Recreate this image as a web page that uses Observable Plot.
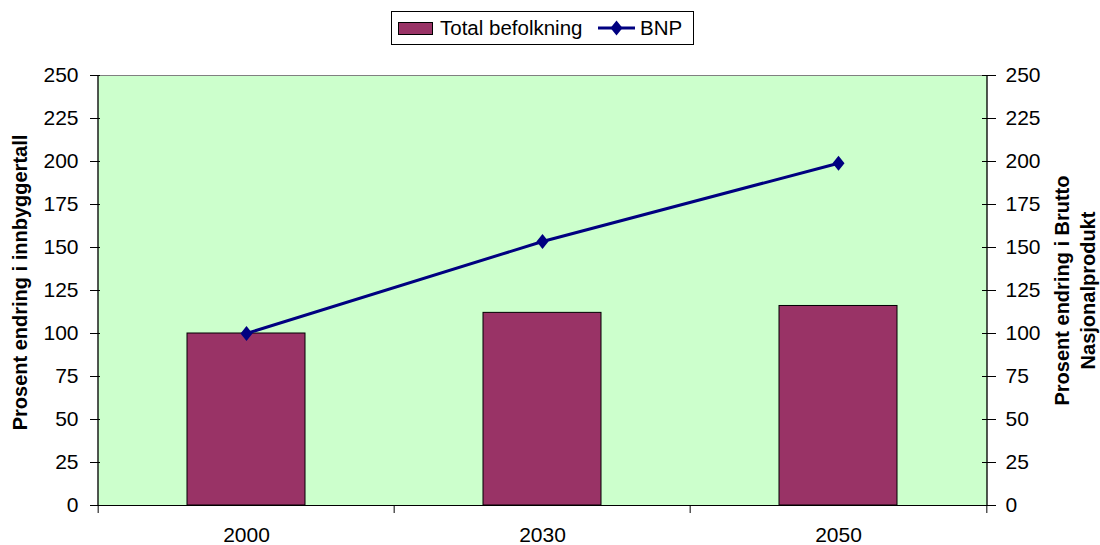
<!DOCTYPE html>
<html>
<head>
<meta charset="utf-8">
<script src="https://cdn.jsdelivr.net/npm/d3@7"></script>
<script src="https://cdn.jsdelivr.net/npm/@observablehq/plot@0.6"></script>
<style>
  html, body { margin: 0; padding: 0; background: #ffffff; }
  body { font-family: "Liberation Sans", Arial, sans-serif; }
  #wrap { width: 1100px; height: 545px; position: relative; }
  #legend { height: 60px; position: relative; }
  #legbox { position: absolute; left: 391px; top: 11px; width: 303px; height: 34px; box-sizing: border-box; border: 1px solid #000; background: #fff; }
  .sw { position: absolute; left: 6px; top: 10px; width: 35px; height: 13px; box-sizing: border-box; background: #993366; border: 1px solid #000; }
  .lt { position: absolute; top: 3px; font-size: 20.5px; line-height: 26px; color: #000; white-space: nowrap; }
  #linesw { position: absolute; left: 206px; top: 7px; }
</style>
</head>
<body>
<div id="wrap">
  <div id="legend"></div>
  <div id="chart"></div>
</div>
<script>
// ---- data ----
const years = ["2000", "2030", "2050"];
const befolkning = [100, 112, 116];      // Total befolkning (bars)
const bnp = [100, 153.5, 199];           // BNP (line)
const yTicks = [0, 25, 50, 75, 100, 125, 150, 175, 200, 225, 250];
const seriesNames = ["Total befolkning", "BNP"];
const leftTitle = "Prosent endring i innbyggertall";
const rightTitle = "Prosent endring i Brutto\nNasjonalprodukt";

// ---- legend (HTML above the SVG) ----
const legend = document.getElementById("legend");
legend.innerHTML = `
  <div id="legbox">
    <div class="sw"></div>
    <div class="lt" style="left:48px">${seriesNames[0]}</div>
    <svg id="linesw" width="38" height="18" viewBox="0 0 38 18">
      <line x1="0" y1="9" x2="37" y2="9" stroke="#000080" stroke-width="3"/>
      <path d="M18.5,1.5 L24.5,9 L18.5,16.5 L12.5,9 Z" fill="#000080"/>
    </svg>
    <div class="lt" style="left:248px">${seriesNames[1]}</div>
  </div>`;

// ---- chart ----
const rows = years.map((y, i) => ({year: y, pop: befolkning[i], gdp: bnp[i]}));

const W = 1100, H = 485, mL = 97, mR = 113, mT = 15, mB = 40;
const step = (W - mL - mR) / years.length;

const tallDiamond = {
  draw(ctx, size) {
    const r = Math.sqrt(size / Math.PI);
    ctx.moveTo(0, -r * 1.25);
    ctx.lineTo(r, 0);
    ctx.lineTo(0, r * 1.25);
    ctx.lineTo(-r, 0);
    ctx.closePath();
  }
};

const chart = Plot.plot({
  width: W,
  height: H,
  marginLeft: mL,
  marginRight: mR,
  marginTop: mT,
  marginBottom: mB,
  style: {fontFamily: "'Liberation Sans', Arial, sans-serif", fontSize: "21px", color: "#000", background: "transparent", overflow: "visible"},
  x: {type: "band", domain: years, paddingInner: 0.6, paddingOuter: 0.3, label: null},
  y: {domain: [0, 250], label: null},
  marks: [
    Plot.frame({fill: "#CCFFCC", stroke: "#808080"}),
    Plot.barY(rows, {x: "year", y: "pop", fill: "#993366", stroke: "#000", strokeWidth: 1}),
    Plot.ruleY([0], {stroke: "#000"}),
    Plot.ruleX([years[0]], {dx: -step / 2, stroke: "#000"}),
    Plot.ruleX([years[years.length - 1]], {dx: step / 2, stroke: "#000"}),
    Plot.ruleX(years, {x: d => d, dx: -step / 2, y1: 0, y2: 0, insetBottom: -8, stroke: "#000"}),
    Plot.ruleX([years[years.length - 1]], {dx: step / 2, y1: 0, y2: 0, insetBottom: -8, stroke: "#000"}),
    Plot.lineY(rows, {x: "year", y: "gdp", stroke: "#000080", strokeWidth: 3}),
    Plot.dot(rows, {x: "year", y: "gdp", symbol: tallDiamond, r: 6, fill: "#000080", stroke: "none"}),
    Plot.axisY({anchor: "left", ticks: yTicks, tickSize: 10, dx: 3, tickPadding: 12, label: null, fontSize: 21}),
    Plot.axisY({anchor: "right", ticks: yTicks, tickSize: 14, dx: -6, tickPadding: 10, label: null, fontSize: 21}),
    Plot.axisX({tickSize: 0, tickPadding: 22, label: null, fontSize: 21}),
    Plot.text([leftTitle], {frameAnchor: "left", textAnchor: "middle", dx: -77, dy: -8, rotate: -90, fontWeight: "bold", fontSize: 20}),
    Plot.text([rightTitle], {frameAnchor: "right", textAnchor: "middle", dx: 86, rotate: -90, fontWeight: "bold", fontSize: 20, lineHeight: 1.3})
  ]
});
document.getElementById("chart").appendChild(chart);
</script>
</body>
</html>
